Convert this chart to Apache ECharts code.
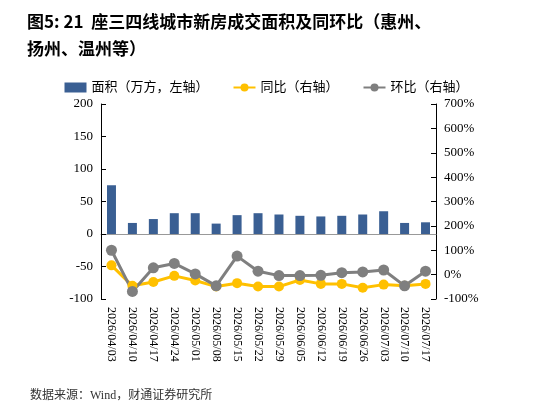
<!DOCTYPE html>
<html><head><meta charset="utf-8">
<script src="https://cdn.jsdelivr.net/npm/echarts@6/dist/echarts.min.js"></script>
<style>body{margin:0}#c{width:533px;height:411px}</style></head>
<body><div id="c"></div>
<script>
var dates = ['2026/04/03','2026/04/10','2026/04/17','2026/04/24','2026/05/01','2026/05/08','2026/05/15','2026/05/22','2026/05/29','2026/06/05','2026/06/12','2026/06/19','2026/06/26','2026/07/03','2026/07/10','2026/07/17'];
var area = [75,17,23,32,32,16,29,32,30,28,27,28,30,35,17,18];
var yoy = [38,-46,-30,-5,-24,-49,-35,-49,-49,-22,-38,-38,-54,-41,-46,-38];
var mom = [100,-69,28,46,3,-46,76,14,-4,-4,-3,8,11,19,-46,14];

var serif = 'Liberation Serif, Noto Sans CJK SC';
var chart = echarts.init(document.getElementById('c'));
chart.setOption({
    animation: false,
    title: {
        text: '图5: 21  座三四线城市新房成交面积及同环比（惠州、\n扬州、温州等）',
        left: 22, top: 3,
        textStyle: {fontSize: 17, fontWeight: 'bold', color: '#000', lineHeight: 27, fontFamily: 'Noto Sans CJK SC'}
    },
    graphic: [{type: 'text', left: 30, top: 390, style: {text: '数据来源：Wind，财通证券研究所', fontSize: 12, fill: '#333', fontFamily: serif}}],
    legend: {
        top: 76, left: 'center', itemGap: 24, itemWidth: 22, itemHeight: 10,
        textStyle: {fontSize: 13, color: '#000', fontFamily: serif},
        data: [{name: '面积（万方，左轴）', icon: 'rect'}, '同比（右轴）', '环比（右轴）']
    },
    grid: {left: 101, right: 97, top: 104, bottom: 112},
    xAxis: {
        type: 'category', data: dates,
        axisLine: {lineStyle: {color: '#999'}},
        axisTick: {lineStyle: {color: '#999'}},
        axisLabel: {rotate: -90, interval: 0, fontSize: 12, color: '#000', fontFamily: serif}
    },
    yAxis: [{
        type: 'value', min: -100, max: 200, interval: 50,
        splitLine: {show: false},
        axisLine: {show: true, lineStyle: {color: '#000'}},
        axisTick: {show: true, inside: true},
        axisLabel: {fontSize: 13, color: '#000', fontFamily: serif}
    }, {
        type: 'value', min: -100, max: 700, interval: 100,
        splitLine: {show: false},
        axisLine: {show: true, lineStyle: {color: '#000'}},
        axisTick: {show: true, inside: true},
        axisLabel: {fontSize: 13, color: '#000', fontFamily: serif, formatter: '{value}%'}
    }],
    series: [{
        name: '面积（万方，左轴）', type: 'bar', data: area, barWidth: 9,
        itemStyle: {color: '#3a5f93'}
    }, {
        name: '同比（右轴）', type: 'line', yAxisIndex: 1, data: yoy,
        symbol: 'circle', symbolSize: 10,
        lineStyle: {color: '#ffc000', width: 3}, itemStyle: {color: '#ffc000'}
    }, {
        name: '环比（右轴）', type: 'line', yAxisIndex: 1, data: mom,
        symbol: 'circle', symbolSize: 11,
        lineStyle: {color: '#7f7f7f', width: 3}, itemStyle: {color: '#7f7f7f'}
    }]
});
</script></body></html>
